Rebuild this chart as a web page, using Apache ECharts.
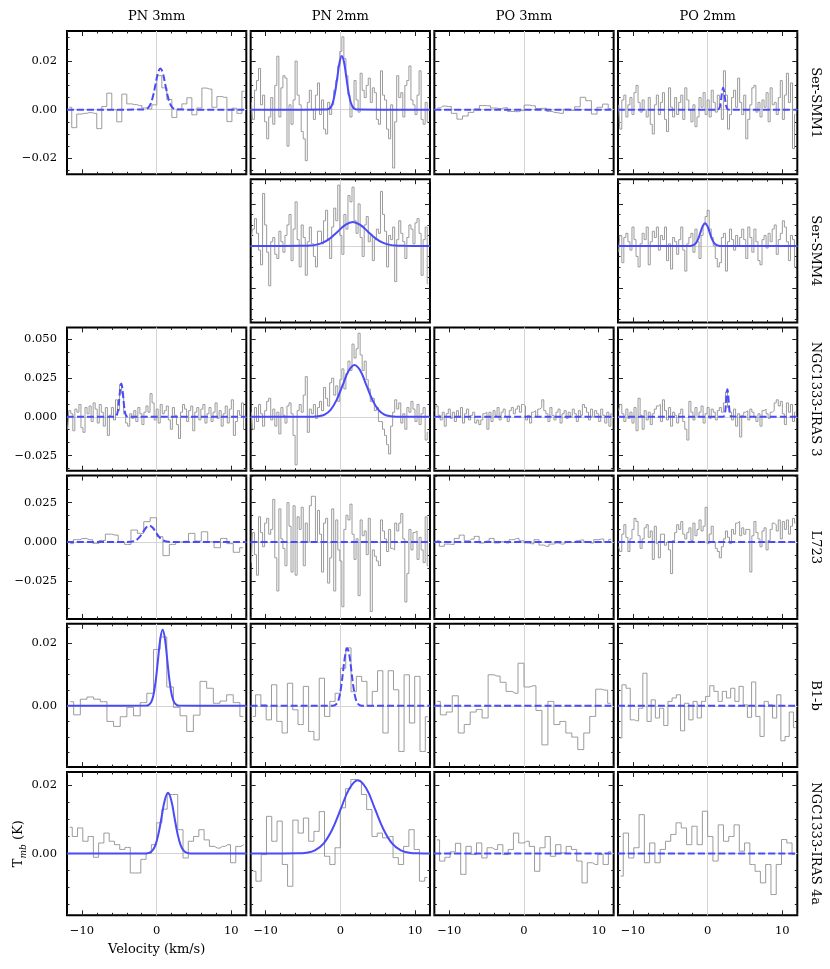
<!DOCTYPE html>
<html>
<head>
<meta charset="utf-8">
<script src="https://cdn.jsdelivr.net/npm/echarts@6/dist/echarts.min.js"></script>
<style>
  html, body { margin: 0; background: #fff; }
  #chart { width: 830px; height: 969px; }
</style>
</head>
<body>
<div id="chart"></div>
<script>
// column / row labels
const columns = ['PN 3mm', 'PN 2mm', 'PO 3mm', 'PO 2mm'];
const sources = ['Ser-SMM1', 'Ser-SMM4', 'NGC1333-IRAS 3', 'L723', 'B1-b', 'NGC1333-IRAS 4a'];

// y limits (K) and ticks per row
const rowYMin = [-0.0266, -0.0365, -0.0348, -0.0487, -0.0196, -0.0181];
const rowYMax = [0.0324, 0.0318, 0.0578, 0.0421, 0.0262, 0.0239];
const rowMajorTicks = [[-0.02, 0, 0.02], [-0.02, 0, 0.02], [-0.025, 0, 0.025, 0.05], [-0.025, 0, 0.025], [0, 0.02], [0, 0.02]];
const rowMinorStep = [0.005, 0.005, 0.025 / 3, 0.025 / 3, 0.005, 0.005];
const rowDecimals = [2, 2, 3, 3, 2, 2];
const xMajorTicks = [-10, 0, 10];
const xMinorTicks = [-12, -8, -6, -4, -2, 2, 4, 6, 8, 12];

// spectra, mK per channel
const smm1_pn3 = [1.0, -7.4, -1.8, -1.5, -1.2, -1.5, -7.8, 1.3, 6.8, 0, -5.0, 6.4, 2.4, 2.1, 1.7, 0.7, 0.3, 2.0, 14, 9, 4.2, -3.2, 0.3, 2.4, 4.9, -2.1, 0.7, 8.9, 8.5, 1.0, 5.4, 5.1, -4.9, 0.6, -1.5, 7.6];
const smm1_pn2 = [3, -4, 8, 12, 17, 2, 6, -5, -12, -3, 5, -6, 10, 22, -3, 9, 14, 13, -15, 2, -6, 4, 20, 6, 2, -9, -12, -21, 3, 8, 0, -4, 6, 11, -2, 4, -8, -10, 3, -2, 2, 8, 12, 18, 24, 30, 21, 14, 6, -3, 1, 12, 4, -1, 15, 8, 5, 10, 13, 3, 9, 7, -4, -6, 16, 6, 4, -8, -12, 2, -24, -5, 14, 5, 7, -3, 10, 12, 18, 4, 2, -2, 6, 16, -4, -6, 3, -5];
const smm1_po3 = [0.7, 1.5, 1.3, -1.5, -3.9, -2.6, -1.1, 0.3, 1.7, 1.6, 0.7, 0.5, 0.8, -0.7, -0.8, -0.4, 1.9, 1.6, 0.5, 0.6, -0.7, -1.2, -1.5, 0.2, -0.3, 1.2, 5.1, 3.7, -1.8, 1.0, 2.3, 0.4];
const smm1_po2 = [2, -8, 4, 6, -3, 2, 5, -2, 7, 10, 3, -1, 4, 0, -3, 5, -6, -10, 2, 6, -2, 3, 7, -4, -9, 9, 1, -3, 5, -2, 3, 6, -4, 9, 4, 0, -5, 2, -7, -3, 5, 1, 7, -2, 4, -3, 8, 3, -1, 6, 2, -4, 16, 6, -8, -2, 5, 8, 1, 13, 3, -2, 6, -12, -4, 2, 9, 10, -1, 3, -3, 4, 1, 7, -5, 9, 2, 3, -2, 5, 12, -4, 6, 15, 3, 11, -16, -2];
const smm4_pn2 = [4, 8, 13, 6, -2, -9, 25, 10, -3, -19, 2, 4, -4, -6, 7, 2, -3, 5, 10, 15, -7, 8, 21, 3, -10, 10, 4, -14, 2, 9, 1, -5, -10, 7, 7, 1, 12, 17, 3, -6, 9, 18, 12, 29, 5, -4, 15, 8, 24, 21, 28, 12, 6, 20, 4, -5, 10, 14, 2, 5, -7, 3, 8, 6, 26, 15, 7, -10, 5, 3, 9, -17, 3, 12, 6, 2, -6, 4, 10, 8, 1, 11, 13, 6, -14, 3, 9, -18];
const smm4_po2 = [-3, 5, -8, 4, 6, 2, -2, 9, 3, -5, -10, 1, 6, 3, 9, -9, 2, 7, 4, 9, -2, 5, 3, 9, -7, 1, -11, 4, 2, -4, 3, 9, -2, -12, 1, 4, 6, -3, 8, 2, -6, 5, 10, 14, 17, 8, 4, 0, -6, -10, -8, 4, 6, -12, 2, 8, 3, -2, 5, 0, 4, 8, 3, -6, 9, 4, -3, 8, 2, -7, -9, 3, 5, -1, 6, 2, 8, 10, -4, 3, 6, 12, 9, 2, -7, 5, 3, -10];
const iras3_pn3 = [-8, 4, 2, -9, 5, 3, 8, -7, -10, 6, 2, 7, -3, 9, 5, -4, 8, 3, -6, 6, -12, 1, 6, -2, 11, 4, 21, 15, 2, -4, -6, 2, -1, 4, -3, 6, 2, -5, 3, 7, 3, 15, 9, -2, 5, -4, 8, 2, 4, 7, -2, -8, 6, 1, -5, -14, 3, 8, 5, -3, 4, 7, -9, 3, 6, -2, 5, 8, -4, 2, 6, -3, 3, 9, -1, 4, -6, 2, 7, -4, 5, 11, -12, -3, 4, 1, 9, -8];
const iras3_pn2 = [3, -8, 6, -3, 8, 2, -6, 4, 10, 12, -2, 5, -6, 3, -11, 6, 1, -4, 7, 9, 2, -12, -31, 4, 8, 3, 14, 26, -10, 5, 2, 8, -1, 6, 10, 4, 19, 12, 7, 22, 25, 14, 20, 10, 24, 31, 18, 28, 36, 30, 47, 38, 44, 54, 40, 30, 36, 24, 18, 10, 12, 4, 6, -3, -3, -8, -12, -18, -24, -6, 3, 11, 5, 9, -4, 2, -8, 6, 3, 10, 5, -3, 8, -5, 2, 6, -15, -10];
const iras3_po3 = [4, 7, 1, -2, 3, -6, 2, 5, -1, 3, -3, 4, 0, 6, -4, 2, 5, -2, 1, 3, -4, -2, -5, -2, 2, 3, -8, 3, -3, 4, 1, 6, -2, 3, 5, 0, -3, 4, 6, 2, 5, 7, 3, 8, 7, -2, 1, -4, 3, 4, 0, 5, 6, 11, 4, 2, -3, 6, 1, -2, 3, 5, -4, 2, 4, -1, 3, 0, 5, 2, -3, 4, 1, 8, 6, 3, -2, 5, 0, 4, 2, -3, 5, 1, -4, 3, -6, 2];
const iras3_po2 = [4, 8, 2, -3, 5, -1, 3, -4, 6, -9, 12, 1, -8, 4, -2, 3, -5, 2, 5, 7, 8, -3, 11, 4, -2, 6, -6, 3, 1, -4, 2, 5, -3, -8, -15, 10, 3, -2, 6, 0, 3, 7, -4, 2, 6, -1, 5, 3, -2, 4, 6, 3, 9, 16, 6, 3, -2, 5, -6, 2, -13, 1, 3, 4, -2, 5, 3, 0, -3, 2, -6, 4, 5, 2, -1, 3, 4, 9, 11, 7, 10, 2, -5, 9, 3, 8, -3, 3];
const l723_pn3 = [-1, 1.5, 2.3, 1.5, -0.8, 1, 5, 4.4, 0, -1.5, 7.6, 5.5, 12.9, 15.4, 3.4, -8.6, -1.5, 0, 0.5, 5.5, 0.6, 6.5, 0.2, -3.6, 2.3, -1, -6.5, -3.6];
const l723_pn2 = [-13, 6, -8, -21, 16, 6, -3, 12, 15, 5, 8, 27, -10, -31, 21, 2, -4, -15, 25, 10, -19, 23, -21, 16, 8, 22, -15, 12, 0, 23, 29, 29, 0, 20, 5, -19, 12, 15, -26, -10, 21, -31, 14, -5, -12, -41, 8, 17, 14, 24, 5, -11, 2, -34, 14, 4, 7, -8, 15, -44, -5, -9, -12, -15, 14, 7, 2, -6, 8, -4, -5, 12, 7, 12, 18, 2, -38, -20, 8, -5, 6, 7, -11, 3, -5, -13, 16, -15];
const l723_po3 = [0.8, -2.7, -1.3, -1.5, 2.3, 4.4, 0.8, 1.9, 3.6, -0.6, 0.6, 2.3, -0.6, 0.2, -0.6, 1.5, 2.3, 0.8, -0.6, -1.1, 1.5, -1.9, -2.7, -1.3, -0.6, -1.3, -0.2, -0.2, 0.8, 1.3, -0.2, -0.6, 1.5, 1.9, 0.2, 1.7];
const l723_po2 = [-3, -6, 5, 11, 3, -6, 2, 8, 15, 13, 4, -4, 2, 9, 11, 3, 7, -11, 10, -1, -10, 5, 5, -2, 0, -5, -20, 1, 6, 11, 8, 13, 5, 2, 6, 9, 1, 12, 4, 8, 14, 7, 10, 22, -1, 5, 10, 0, -4, -6, -10, -3, 2, 7, 3, -1, 8, 5, 12, 13, 4, 9, 5, 8, 8, -19, 4, 13, 6, 2, -3, 7, 9, -5, 1, 8, 12, 11, 7, 14, 2, 13, 8, 14, 5, 10, 15, 12];
const b1b_pn3 = [1.3, -2.9, 2.1, 2.8, 2.1, 1.3, -5.0, -6.6, -3.5, -0.5, -3.2, 1.0, 4.0, 18.0, 22.0, 6.0, -0.5, -3.2, -8.2, -3.0, 7.8, 5.6, 0.8, 1.5, 3.5, 1.0, -3.4];
const b1b_pn2 = [-3.4, 3.5, 0.3, -4.5, 6.7, -5.0, -8.7, 7.2, -1.3, -6.0, 6.2, -8.2, -10.9, 8.8, -3.4, 1.4, 4.0, 12.0, 18.5, 4.5, 9.4, 7.8, 0.0, 4.6, 11.2, -8.7, 11.2, 5.1, -14.6, 9.9, -5.5, 9.4, -14.6, -3.5];
const b1b_po3 = [1.4, -2.9, -2.0, 3.2, -8.7, -6.0, -2.0, -1.2, -3.9, 9.9, 9.5, 7.5, 4.6, 4.0, 13.6, 6.0, 6.4, -1.5, -12.5, 1.4, -6.0, -5.0, -8.7, -10.0, -14.0, -8.7, -3.4, 5.3, 5.0, 0.8];
const b1b_po2 = [-10.3, 6.7, 5.6, -4.5, -4.8, -0.8, 10.4, -5.0, 1.9, -3.9, -0.8, -6.3, 1.4, 2.5, 3.5, -8.0, 0.8, -4.5, 1.4, -3.9, 1.4, 3.0, 6.4, 4.6, 1.4, 4.6, 2.5, 5.6, 1.4, 6.2, 0.3, -3.7, 7.6, -3.4, -9.8, 1.4, 0.3, -3.9, 3.5, -11.2, -9.8, -2.0, -7.0];
const iras4a_pn3 = [7.7, 5.0, 7.5, 3.6, 5.0, -1.1, 3.1, 6.0, 3.6, 2.6, 1.2, 1.8, -5.7, -5.7, -1.7, 0.0, 2.6, 9.0, 13.0, 17.3, 17.3, 7.0, -1.3, 3.6, 5.0, 7.0, 4.0, 2.1, 1.6, 2.1, 2.6, -2.7, 2.1, 2.6];
const iras4a_pn2 = [-5.2, -8.1, -0.3, 10.9, 3.6, 9.5, -3.2, -9.6, 9.8, 6.0, 10.4, 3.6, 6.5, 12.3, -0.8, -3.2, 1.7, 13.4, 19.0, 21.7, 21.2, 17.3, 12.9, 5.0, 6.0, 4.6, 5.0, -1.2, -3.2, 2.1, 7.0, 1.2, -8.1, -7.0];
const iras4a_po3 = [4.0, -2.2, -1.1, 0.5, 3.0, -6.1, 2.1, -0.3, 3.1, -1.3, 1.7, 1.2, 2.6, -0.3, 1.2, 6.0, 3.1, 3.6, 2.1, -5.2, 1.7, 5.0, -0.8, 2.6, 0.2, 2.1, 1.2, -2.2, -8.6, -2.7, -3.2, -0.3, -3.2, 0.5];
const iras4a_po2 = [-6.6, 6.0, -1.3, 1.7, 11.4, -2.7, 3.1, -2.7, 1.2, 3.6, 5.6, 9.0, 7.5, 2.6, 8.0, 2.6, 12.4, 5.0, -2.2, 8.4, 3.6, 5.0, 8.4, 0.7, 3.1, -3.2, -5.2, -8.6, -3.2, -12.0, -3.2, 4.1, 3.1, -0.3];

// gaussian fits, [km/s, mK]
const fit_flat = [[-12, 0], [12, 0]];
const fit_smm1_pn3 = [[-12, 0], [-1.81, 0.04], [-1.48, 0.19], [-1.15, 0.75], [-0.82, 2.3], [-0.49, 5.52], [-0.16, 10.3], [0.17, 15.0], [0.5, 17], [0.83, 15.0], [1.16, 10.3], [1.49, 5.52], [1.82, 2.3], [2.15, 0.75], [2.48, 0.19], [2.81, 0.04], [12, 0]];
const fit_smm1_pn2 = [[-12, 0], [-1.9, 0.05], [-1.6, 0.24], [-1.3, 0.97], [-1.0, 2.99], [-0.7, 7.18], [-0.4, 13.4], [-0.1, 19.5], [0.2, 22.1], [0.5, 19.5], [0.8, 13.4], [1.1, 7.18], [1.4, 2.99], [1.7, 0.97], [2.0, 0.24], [2.3, 0.05], [12, 0]];
const fit_smm1_po2 = [[-12, 0], [1.30, 0.02], [1.41, 0.10], [1.52, 0.40], [1.63, 1.22], [1.74, 2.92], [1.85, 5.46], [1.96, 7.94], [2.07, 9.0], [2.18, 7.94], [2.29, 5.46], [2.40, 2.92], [2.51, 1.22], [2.62, 0.40], [2.73, 0.10], [2.84, 0.02], [12, 0]];
const fit_smm4_pn2 = [[-12, 0], [-5.33, 0.03], [-4.33, 0.13], [-3.33, 0.5], [-2.33, 1.54], [-1.33, 3.70], [-0.33, 6.91], [0.67, 10.06], [1.67, 11.4], [2.67, 10.06], [3.67, 6.91], [4.67, 3.70], [5.67, 1.54], [6.67, 0.5], [7.67, 0.13], [8.67, 0.03], [12, 0]];
const fit_smm4_po2 = [[-12, 0], [-2.45, 0.02], [-2.15, 0.12], [-1.85, 0.47], [-1.55, 1.46], [-1.25, 3.51], [-0.95, 6.55], [-0.65, 9.53], [-0.35, 10.8], [-0.05, 9.53], [0.25, 6.55], [0.55, 3.51], [0.85, 1.46], [1.15, 0.47], [1.45, 0.12], [1.75, 0.02], [12, 0]];
const fit_iras3_pn3 = [[-12, 0], [-5.605, 0.05], [-5.48, 0.24], [-5.355, 0.94], [-5.23, 2.91], [-5.105, 6.98], [-4.98, 13.0], [-4.855, 19.0], [-4.73, 21.5], [-4.605, 19.0], [-4.48, 13.0], [-4.355, 6.98], [-4.23, 2.91], [-4.105, 0.94], [-3.98, 0.24], [-3.855, 0.05], [12, 0]];
const fit_iras3_pn2 = [[-12, 0], [-3.7, 0.07], [-2.9, 0.37], [-2.1, 1.47], [-1.3, 4.53], [-0.5, 10.9], [0.3, 20.3], [1.1, 29.6], [1.9, 33.5], [2.7, 29.6], [3.5, 20.3], [4.3, 10.9], [5.1, 4.53], [5.9, 1.47], [6.7, 0.37], [7.5, 0.07], [12, 0]];
const fit_iras3_po2 = [[-12, 0], [2.08, 0.04], [2.16, 0.20], [2.24, 0.79], [2.32, 2.42], [2.40, 5.81], [2.48, 10.9], [2.56, 15.8], [2.64, 17.9], [2.72, 15.8], [2.80, 10.9], [2.88, 5.81], [2.96, 2.42], [3.04, 0.79], [3.12, 0.20], [3.20, 0.04], [12, 0]];
const fit_l723_pn3 = [[-12, 0], [-3.945, 0.02], [-3.52, 0.12], [-3.095, 0.46], [-2.67, 1.41], [-2.245, 3.38], [-1.82, 6.31], [-1.395, 9.18], [-0.97, 10.4], [-0.545, 9.18], [-0.12, 6.31], [0.305, 3.38], [0.73, 1.41], [1.155, 0.46], [1.58, 0.12], [2.005, 0.02], [12, 0]];
const fit_b1b_pn3 = [[-12, 0], [-1.37, 0.05], [-1.06, 0.27], [-0.75, 1.07], [-0.44, 3.29], [-0.13, 7.89], [0.18, 14.7], [0.49, 21.4], [0.8, 24.3], [1.11, 21.4], [1.42, 14.7], [1.73, 7.89], [2.04, 3.29], [2.35, 1.07], [2.66, 0.27], [2.97, 0.05], [12, 0]];
const fit_b1b_pn2 = [[-12, 0], [-0.995, 0.04], [-0.72, 0.20], [-0.445, 0.81], [-0.17, 2.49], [0.105, 5.97], [0.38, 11.2], [0.655, 16.2], [0.93, 18.4], [1.205, 16.2], [1.48, 11.2], [1.755, 5.97], [2.03, 2.49], [2.305, 0.81], [2.58, 0.20], [2.855, 0.04], [12, 0]];
const fit_iras4a_pn3 = [[-12, 0], [-1.455, 0.04], [-1.03, 0.20], [-0.605, 0.78], [-0.18, 2.41], [0.245, 5.78], [0.67, 10.8], [1.095, 15.7], [1.52, 17.8], [1.945, 15.7], [2.37, 10.8], [2.795, 5.78], [3.22, 2.41], [3.645, 0.78], [4.07, 0.20], [4.495, 0.04], [12, 0]];
const fit_iras4a_pn2 = [[-12, 0], [-5.7, 0.05], [-4.55, 0.24], [-3.4, 0.94], [-2.25, 2.91], [-1.1, 6.98], [0.05, 13.0], [1.2, 19.0], [2.35, 21.5], [3.5, 19.0], [4.65, 13.0], [5.8, 6.98], [6.95, 2.91], [8.1, 0.94], [9.25, 0.24], [10.4, 0.05], [12, 0]];

// row, col, spectrum, [first channel km/s, channel width], fit, dashed
const panels = [
  [0, 0, smm1_pn3, [-11.7, 0.67], fit_smm1_pn3, true],
  [0, 1, smm1_pn2, [-11.9, 0.272], fit_smm1_pn2, false],
  [0, 2, smm1_po3, [-11.6, 0.75], fit_flat, true],
  [0, 3, smm1_po2, [-11.9, 0.272], fit_smm1_po2, true],
  [1, 1, smm4_pn2, [-11.9, 0.272], fit_smm4_pn2, false],
  [1, 3, smm4_po2, [-11.9, 0.272], fit_smm4_po2, false],
  [2, 0, iras3_pn3, [-11.9, 0.272], fit_iras3_pn3, true],
  [2, 1, iras3_pn2, [-11.9, 0.272], fit_iras3_pn2, false],
  [2, 2, iras3_po3, [-11.9, 0.272], fit_flat, true],
  [2, 3, iras3_po2, [-11.9, 0.272], fit_iras3_po2, true],
  [3, 0, l723_pn3, [-11.57, 0.856], fit_l723_pn3, true],
  [3, 1, l723_pn2, [-11.9, 0.272], fit_flat, true],
  [3, 2, l723_po3, [-11.67, 0.667], fit_flat, true],
  [3, 3, l723_po2, [-11.9, 0.272], fit_flat, true],
  [4, 0, b1b_pn3, [-11.55, 0.89], fit_b1b_pn3, false],
  [4, 1, b1b_pn2, [-11.7, 0.71], fit_b1b_pn2, true],
  [4, 2, b1b_po3, [-11.6, 0.8], fit_flat, true],
  [4, 3, b1b_po2, [-11.76, 0.56], fit_flat, true],
  [5, 0, iras4a_pn3, [-11.65, 0.706], fit_iras4a_pn3, false],
  [5, 1, iras4a_pn2, [-11.65, 0.706], fit_iras4a_pn2, false],
  [5, 2, iras4a_po3, [-11.65, 0.706], fit_flat, true],
  [5, 3, iras4a_po2, [-11.65, 0.706], fit_flat, true]
];

const FONT = 'DejaVu Serif';
const colLeft = c => 67 + c * 183.67;
const rowTop = r => 31 + r * 148.2;
const PW = 179.3, PH = 143.3;

function minorTicks(min, max, step) {
  const out = [];
  for (let k = Math.ceil(min / step - 1e-6); k * step <= max + 1e-9; k++) out.push(+(k * step).toFixed(6));
  return out;
}
const minus = s => s.replace('-', '\u2212');

const grids = [], xAxes = [], yAxes = [], series = [];

panels.forEach((p, i) => {
  const [r, c, spec, chan, fit, dashed] = p;
  grids.push({ left: colLeft(c), top: rowTop(r), width: PW, height: PH, show: true, borderColor: '#000', borderWidth: 2, backgroundColor: 'transparent' });

  const tick = (vals, len) => ({ show: true, inside: true, length: len, customValues: vals, lineStyle: { color: '#222', width: 1 } });
  const base = { type: 'value', gridIndex: i, axisLine: { show: false, onZero: false }, splitLine: { show: false } };
  const labelStyle = { fontFamily: FONT, fontSize: 11.5, color: '#000' };

  // x: bottom major/minor, top major/minor
  xAxes.push(Object.assign({}, base, { min: -12, max: 12, position: 'bottom', axisTick: tick(xMajorTicks, 5),
    axisLabel: Object.assign({ show: r === 5, customValues: xMajorTicks, margin: 10, formatter: v => minus(String(v)) }, labelStyle) }));
  xAxes.push(Object.assign({}, base, { min: -12, max: 12, position: 'bottom', axisTick: tick(xMinorTicks, 2.5), axisLabel: { show: false } }));
  xAxes.push(Object.assign({}, base, { min: -12, max: 12, position: 'top', axisTick: tick(xMajorTicks, 5), axisLabel: { show: false } }));
  xAxes.push(Object.assign({}, base, { min: -12, max: 12, position: 'top', axisTick: tick(xMinorTicks, 2.5), axisLabel: { show: false } }));

  // y: left major/minor, right major/minor
  const ymin = rowYMin[r], ymax = rowYMax[r];
  const major = rowMajorTicks[r];
  const minor = minorTicks(ymin, ymax, rowMinorStep[r]);
  yAxes.push(Object.assign({}, base, { min: ymin, max: ymax, position: 'left', axisTick: tick(major, 5),
    axisLabel: Object.assign({ show: c === 0, customValues: major, margin: 10, formatter: v => minus(v.toFixed(rowDecimals[r])) }, labelStyle) }));
  yAxes.push(Object.assign({}, base, { min: ymin, max: ymax, position: 'left', axisTick: tick(minor, 2.5), axisLabel: { show: false } }));
  yAxes.push(Object.assign({}, base, { min: ymin, max: ymax, position: 'right', axisTick: tick(major, 5), axisLabel: { show: false } }));
  yAxes.push(Object.assign({}, base, { min: ymin, max: ymax, position: 'right', axisTick: tick(minor, 2.5), axisLabel: { show: false } }));

  const ax = 4 * i;
  series.push({
    type: 'line', xAxisIndex: ax, yAxisIndex: ax, step: 'middle', symbol: 'none', z: 2,
    lineStyle: { color: '#9b9b9b', width: 1 },
    data: spec.map((t, k) => [chan[0] + k * chan[1], t / 1000]),
    markLine: { silent: true, symbol: 'none', label: { show: false }, animation: false, z: 1,
      lineStyle: { color: '#d4d4d4', width: 1, type: 'solid' }, data: [{ xAxis: 0 }, { yAxis: 0 }] }
  });
  series.push({
    type: 'line', xAxisIndex: ax, yAxisIndex: ax, symbol: 'none', z: 3,
    smooth: 0.4,
    lineStyle: { color: '#4a4afa', width: 2, type: dashed ? [7, 3] : 'solid' },
    data: fit.map(d => [d[0], d[1] / 1000])
  });
});

const graphic = [];
columns.forEach((t, c) => graphic.push({ type: 'text', x: colLeft(c) + PW / 2, y: 17,
  style: { text: t, fontFamily: FONT, fontSize: 13, fill: '#000', align: 'center', verticalAlign: 'middle' } }));
sources.forEach((t, r) => graphic.push({ type: 'text', x: 815, y: rowTop(r) + PH / 2, rotation: -Math.PI / 2,
  style: { text: t, fontFamily: FONT, fontSize: 13, fill: '#000', align: 'center', verticalAlign: 'middle' } }));
graphic.push({ type: 'text', x: colLeft(0) + PW / 2, y: 950,
  style: { text: 'Velocity (km/s)', fontFamily: FONT, fontSize: 13, fill: '#000', align: 'center', verticalAlign: 'middle' } });
graphic.push({ type: 'text', x: 19, y: rowTop(5) + PH / 2, rotation: Math.PI / 2,
  style: { text: '{a|T}{b|mb}{a| (K)}', align: 'center', verticalAlign: 'middle',
    rich: { a: { fontFamily: FONT, fontSize: 13, fill: '#000', lineHeight: 18, verticalAlign: 'middle' },
            b: { fontFamily: FONT, fontSize: 9, fontStyle: 'italic', fill: '#000', lineHeight: 18, verticalAlign: 'bottom', padding: [6, 0, 0, 0] } } } });

const chart = echarts.init(document.getElementById('chart'));
chart.setOption({
  animation: false,
  backgroundColor: '#fff',
  grid: grids,
  xAxis: xAxes,
  yAxis: yAxes,
  series: series,
  graphic: graphic
});
</script>
</body>
</html>
